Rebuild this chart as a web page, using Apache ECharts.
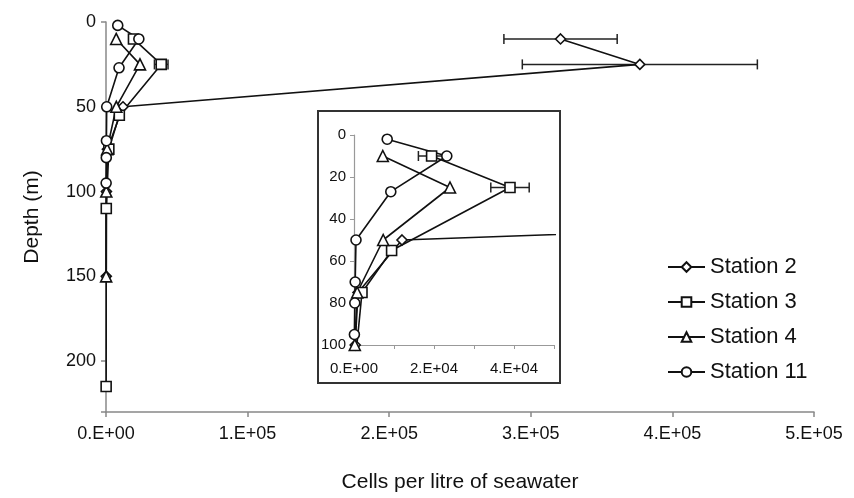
<!DOCTYPE html>
<html>
<head>
<meta charset="utf-8">
<script src="https://cdn.jsdelivr.net/npm/echarts@6/dist/echarts.min.js"></script>
<style>html,body{margin:0;padding:0;background:#fff}#c{width:854px;height:498px}</style>
</head>
<body>
<div id="c"></div>
<script>
// ---- data ----
const stationNames = ['Station 2', 'Station 3', 'Station 4', 'Station 11'];
const s2Depth = [10, 25, 50, 75, 100, 150];
const s2Cells = [321000, 377000, 12000, 1000, 300, 200];
const s3Depth = [10, 25, 55, 75, 110, 215];
const s3Cells = [19400, 39000, 9400, 2000, 200, 100];
const s4Depth = [10, 25, 50, 75, 100, 150];
const s4Cells = [7200, 24000, 7300, 800, 200, 100];
const s11Depth = [2, 10, 27, 50, 70, 80, 95];
const s11Cells = [8300, 23200, 9200, 500, 300, 200, 100];
// error bars (+/-)
const errDepth = [10, 25, 10, 25];
const errCells = [321000, 377000, 19400, 39000];
const errSize = [40000, 83000, 3300, 4800];
// tick labels
const xTickLabels = ['0.E+00', '1.E+05', '2.E+05', '3.E+05', '4.E+05', '5.E+05'];
const yTickValues = [0, 50, 100, 150, 200];
const insetXTickValues = [0, 20000, 40000];
const insetXTickLabels = ['0.E+00', '2.E+04', '4.E+04'];
const insetYTickValues = [0, 20, 40, 60, 80, 100];

const FONT = 'Liberation Sans';
const symbols = ['diamond', 'rect', 'triangle', 'circle'];
const depths = [s2Depth, s3Depth, s4Depth, s11Depth];
const cells = [s2Cells, s3Cells, s4Cells, s11Cells];

function pairs(d, c) { return d.map((v, i) => [c[i], v]); }
const errData = errDepth.map((d, i) => [errCells[i], d, errSize[i]]);

function errRender(params, api) {
  const x = api.value(0), y = api.value(1), e = api.value(2);
  const p1 = api.coord([x - e, y]);
  const p2 = api.coord([x + e, y]);
  const h = 5;
  const st = { stroke: '#222', lineWidth: 1.5 };
  return {
    type: 'group',
    children: [
      { type: 'line', shape: { x1: p1[0], y1: p1[1], x2: p2[0], y2: p2[1] }, style: st },
      { type: 'line', shape: { x1: p1[0], y1: p1[1] - h, x2: p1[0], y2: p1[1] + h }, style: st },
      { type: 'line', shape: { x1: p2[0], y1: p2[1] - h, x2: p2[0], y2: p2[1] + h }, style: st }
    ]
  };
}

const series = [];
[0, 1].forEach(g => {
  stationNames.forEach((n, i) => {
    series.push({
      type: 'line', name: n, xAxisIndex: g, yAxisIndex: g,
      data: pairs(depths[i], cells[i]),
      symbol: symbols[i], symbolSize: i === 2 ? 11 : 10,
      showAllSymbol: true, clip: true,
      lineStyle: { color: '#111', width: 1.6 },
      itemStyle: { color: '#fff', borderColor: '#111', borderWidth: 1.6 },
      z: g === 0 ? 2 : 6, animation: false
    });
  });
  series.push({
    type: 'custom', xAxisIndex: g, yAxisIndex: g, data: errData,
    renderItem: errRender, clip: true, z: g === 0 ? 1 : 5, animation: false, silent: true
  });
});

const axisLineStyle = { color: '#888', width: 1.5 };

const option = {
  animation: false,
  backgroundColor: '#fff',
  textStyle: { fontFamily: FONT },
  grid: [
    { left: 106, top: 22, width: 708, height: 395 },
    { left: 354, top: 135, width: 200, height: 210, z: 5 }
  ],
  graphic: [{
    type: 'rect', z: 3, zlevel: 0,
    shape: { x: 318, y: 111, width: 242, height: 272 },
    style: { fill: '#fff', stroke: '#333', lineWidth: 2 }
  }],
  xAxis: [{
    type: 'value', gridIndex: 0, min: 0, max: 500000, interval: 100000,
    position: 'bottom',
    axisLine: { onZero: false, lineStyle: axisLineStyle },
    axisTick: { show: true, length: 5, lineStyle: axisLineStyle },
    splitLine: { show: false },
    axisLabel: { fontSize: 18, color: '#111', fontFamily: FONT, margin: 13,
      formatter: v => xTickLabels[Math.round(v / 100000)] || '' },
    name: 'Cells per litre of seawater', nameLocation: 'middle', nameGap: 60,
    nameTextStyle: { fontSize: 21, color: '#111', fontFamily: FONT }
  }, {
    type: 'value', gridIndex: 1, min: 0, max: 50000, interval: 10000,
    position: 'bottom', z: 6,
    axisLine: { onZero: false, lineStyle: { color: '#999', width: 1.2 } },
    axisTick: { show: true, length: 4, lineStyle: { color: '#999' } },
    splitLine: { show: false },
    axisLabel: { fontSize: 15, color: '#111', fontFamily: FONT, margin: 16,
      formatter: v => { const k = insetXTickValues.indexOf(v); return k >= 0 ? insetXTickLabels[k] : ''; } }
  }],
  yAxis: [{
    type: 'value', gridIndex: 0, min: 0, max: 230, interval: 50, inverse: true,
    axisLine: { onZero: false, lineStyle: axisLineStyle },
    axisTick: { show: true, length: 5, lineStyle: axisLineStyle },
    splitLine: { show: false },
    axisLabel: { fontSize: 18, color: '#111', fontFamily: FONT, margin: 10,
      formatter: v => yTickValues.indexOf(v) >= 0 ? String(v) : '' },
    name: 'Depth (m)', nameLocation: 'middle', nameGap: 63, nameRotate: 90,
    nameTextStyle: { fontSize: 21, color: '#111', fontFamily: FONT }
  }, {
    type: 'value', gridIndex: 1, min: 0, max: 100, interval: 20, inverse: true, z: 6,
    axisLine: { onZero: false, lineStyle: { color: '#999', width: 1.2 } },
    axisTick: { show: true, length: 4, lineStyle: { color: '#999' } },
    splitLine: { show: false },
    axisLabel: { fontSize: 15, color: '#111', fontFamily: FONT, margin: 8,
      formatter: v => insetYTickValues.indexOf(v) >= 0 ? String(v) : '' }
  }],
  legend: {
    data: stationNames, orient: 'vertical', left: 662, top: 251,
    itemWidth: 37, itemHeight: 12, itemGap: 13,
    textStyle: { fontSize: 22, color: '#111', fontFamily: FONT, padding: [0, 0, 0, 0] },
    inactiveColor: '#111'
  },
  series: series
};

const chart = echarts.init(document.getElementById('c'), null, { renderer: 'canvas' });
chart.setOption(option);
</script>
</body>
</html>
